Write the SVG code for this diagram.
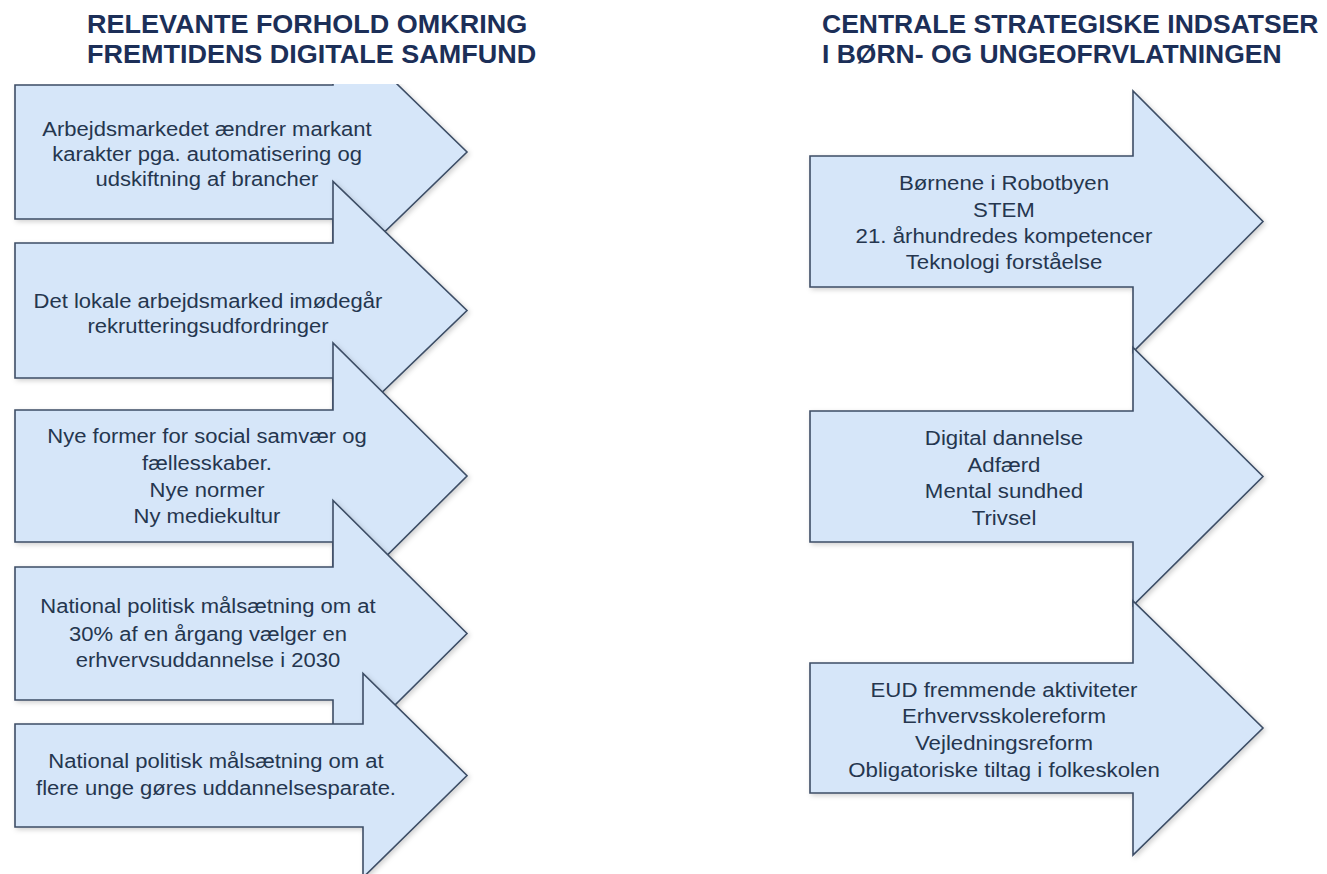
<svg xmlns="http://www.w3.org/2000/svg" width="1327" height="874" viewBox="0 0 1327 874">
<defs>
<filter id="sh" x="-10%" y="-10%" width="120%" height="120%">
<feDropShadow dx="2" dy="2" stdDeviation="2.5" flood-color="#000" flood-opacity="0.18"/>
</filter>
<style>
.arr{fill:#d6e6f9;stroke:#3d4e66;stroke-width:1.6;stroke-linejoin:miter;filter:url(#sh)}
.tl{font-family:"Liberation Sans",Arial,sans-serif;font-size:19.5px;fill:#25364f;text-anchor:middle}
.tr{font-family:"Liberation Sans",Arial,sans-serif;font-size:21px;fill:#25364f;text-anchor:middle}
.title{font-family:"Liberation Sans",Arial,sans-serif;font-size:25px;font-weight:bold;fill:#1c2f58}
</style>
</defs>
<rect width="1327" height="874" fill="#ffffff"/>
<g id="left-arrows">
<g id="node-l1">
<polygon class="arr" points="15,85 333,85 333,22 467,152 333,282 333,219 15,219"/>
</g>
<rect x="0" y="0" width="560" height="84" fill="#ffffff"/>
<g id="node-l2">
<polygon class="arr" points="15,243 333,243 333,181.5 467,310.5 333,439.5 333,378 15,378"/>
</g>
<g id="node-l3">
<polygon class="arr" points="15,410 333,410 333,343 467,476 333,609 333,542 15,542"/>
</g>
<g id="node-l4">
<polygon class="arr" points="15,567 333,567 333,500.5 467,633.5 333,766.5 333,700 15,700"/>
</g>
<g id="node-l5">
<polygon class="arr" points="15,724 363,724 363,673.5 467,775.5 363,877.5 363,827 15,827"/>
</g>
</g>
<g id="right-arrows">
<g id="node-r1">
<polygon class="arr" points="810,156 1133,156 1133,91 1263,221.5 1133,352 1133,287 810,287"/>
</g>
<g id="node-r2">
<polygon class="arr" points="810,411 1133,411 1133,347.5 1263,476.5 1133,605.5 1133,542 810,542"/>
</g>
<g id="node-r3">
<polygon class="arr" points="810,663 1133,663 1133,601 1263,728 1133,855 1133,793 810,793"/>
</g>
</g>
<g id="connectors"></g>
<g id="titles">
<g transform="translate(87 0) scale(1.08 1)">
<text class="title" x="0" y="33">RELEVANTE FORHOLD OMKRING</text>
<text class="title" x="0" y="63">FREMTIDENS DIGITALE SAMFUND</text>
</g>
<g transform="translate(822 0) scale(1.06 1)">
<text class="title" x="0" y="33">CENTRALE STRATEGISKE INDSATSER</text>
<text class="title" x="0" y="63">I BØRN- OG UNGEOFRVLATNINGEN</text>
</g>
</g>
<g id="labels">
<g transform="translate(207 0) scale(1.13 1)">
<text class="tl" x="0" y="136">Arbejdsmarkedet ændrer markant</text>
<text class="tl" x="0" y="161">karakter pga. automatisering og</text>
<text class="tl" x="0" y="186">udskiftning af brancher</text>
</g>
<g transform="translate(208 0) scale(1.13 1)">
<text class="tl" x="0" y="308">Det lokale arbejdsmarked imødegår</text>
<text class="tl" x="0" y="333">rekrutteringsudfordringer</text>
</g>
<g transform="translate(207 0) scale(1.13 1)">
<text class="tl" x="0" y="443">Nye former for social samvær og</text>
<text class="tl" x="0" y="470">fællesskaber.</text>
<text class="tl" x="0" y="497">Nye normer</text>
<text class="tl" x="0" y="523">Ny mediekultur</text>
</g>
<g transform="translate(208 0) scale(1.13 1)">
<text class="tl" x="0" y="613">National politisk målsætning om at</text>
<text class="tl" x="0" y="641">30% af en årgang vælger en</text>
<text class="tl" x="0" y="667">erhvervsuddannelse i 2030</text>
</g>
<g transform="translate(216 0) scale(1.13 1)">
<text class="tl" x="0" y="768">National politisk målsætning om at</text>
<text class="tl" x="0" y="795">flere unge gøres uddannelsesparate.</text>
</g>
<g transform="translate(1004 0) scale(1.06 1)">
<text class="tr" x="0" y="190">Børnene i Robotbyen</text>
<text class="tr" x="0" y="217">STEM</text>
<text class="tr" x="0" y="243">21. århundredes kompetencer</text>
<text class="tr" x="0" y="269">Teknologi forståelse</text>
</g>
<g transform="translate(1004 0) scale(1.06 1)">
<text class="tr" x="0" y="445">Digital dannelse</text>
<text class="tr" x="0" y="472">Adfærd</text>
<text class="tr" x="0" y="498">Mental sundhed</text>
<text class="tr" x="0" y="525">Trivsel</text>
</g>
<g transform="translate(1004 0) scale(1.06 1)">
<text class="tr" x="0" y="697">EUD fremmende aktiviteter</text>
<text class="tr" x="0" y="723">Erhvervsskolereform</text>
<text class="tr" x="0" y="750">Vejledningsreform</text>
<text class="tr" x="0" y="777">Obligatoriske tiltag i folkeskolen</text>
</g>
</g>
</svg>
